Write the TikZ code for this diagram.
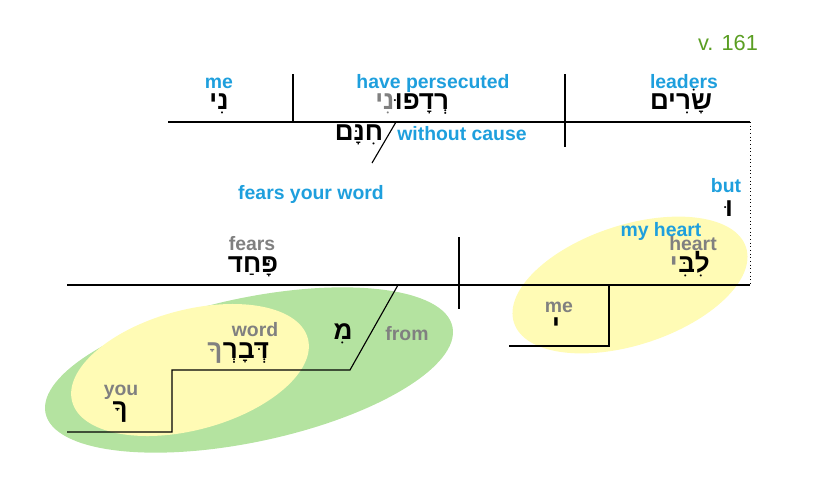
\documentclass[tikz,border=0pt]{standalone}
\usepackage{fontspec}
\setmainfont{Liberation Sans}
\newfontfamily\hebfont[Script=Hebrew]{Liberation Sans}
\TeXXeTstate=1
\usetikzlibrary{positioning}

\definecolor{lblblue}{HTML}{1E9FDD}
\definecolor{lblgrey}{HTML}{808080}
\definecolor{versegreen}{HTML}{5A9E22}
\definecolor{hiyellow}{HTML}{FFFBB5}
\definecolor{higreen}{HTML}{B4E3A0}

\tikzset{
  eng/.style={text=lblblue, font=\fontsize{13.8}{16}\selectfont\bfseries, inner sep=0pt, anchor=base},
  gloss/.style={eng, text=lblgrey},
  heb/.style={font=\hebfont\fontsize{18.5}{20}\selectfont\bfseries, inner sep=0pt, anchor=base},
  hebgrey/.style={heb, text=lblgrey, anchor=base east},
  base/.style={line width=0.8pt},
}

\begin{document}
\begin{tikzpicture}[x=0.025cm,y=-0.025cm]
  \useasboundingbox (0,0) rectangle (825,489);
  % highlight ovals
  \fill[higreen, rotate around={12:(249,370)}] (249,370) ellipse (208 and 72);
  \fill[hiyellow, rotate around={15:(190,370)}] (190,370) ellipse (122 and 60);
  \fill[hiyellow, rotate around={18:(630,285)}] (630,285) ellipse (122 and 60);

  % verse number
  \node[text=versegreen, font=\fontsize{15.5}{18}\selectfont, inner sep=0pt, anchor=base] (verse) at (728,50) {v. 161};

  % first clause
  \draw[base] (168,122) -- (750,122);
  \draw[base] (293,74) -- (293,122);
  \draw[base] (565,74) -- (565,147);
  \draw[base] (396,122) -- (372,163);
  \draw[dotted, line width=0.6pt] (750,122) -- (750,285);

  \node[eng] (me) at (219,88) {me};
  \node[heb] (ni) at (219,109) {\beginR נִי\endR};
  \node[eng] (persecuted) at (433,88) {have persecuted};
  \node[heb] (radafu) at (422,109) {\beginR רְדָפוּ\endR};
  \node[hebgrey] (radafuNi) at (radafu.base west) {\beginR נִי\endR};
  \node[eng] (leaders) at (684,88) {leaders};
  \node[heb] (sarim) at (681,109) {\beginR שָׂרִים\endR};
  \node[heb] (hinnam) at (359,140) {\beginR חִנָּם\endR};
  \node[eng] (cause) at (462,140) {without cause};

  \node[eng] (fearsword) at (311,199) {fears your word};
  \node[eng] (but) at (726,192) {but};
  \node[heb] (vav) at (729,216) {\beginR וּ\endR};

  % second clause
  \draw[base] (67,285) -- (750,285);
  \draw[base] (459,237) -- (459,309);
  \draw[base] (398,285) -- (350,370) -- (172,370) -- (172,432) -- (67,432);
  \draw[base] (609,285) -- (609,346) -- (509,346);

  \node[gloss] (fears) at (252,250) {fears};
  \node[heb] (pahad) at (253,272) {\beginR פָּחַד\endR};
  \node[eng] (myheart) at (661,236) {my heart};
  \node[gloss] (heart) at (693,250) {heart};
  \node[heb] (libbi) at (694,272) {\beginR לִבִּ\endR};
  \node[hebgrey] (libbiYod) at (libbi.base west) {\beginR י\endR};
  \node[gloss] (meB) at (559,312) {me};
  \node[heb] (yod) at (556,333) {\beginR י\endR};

  \node[heb] (mi) at (343,339) {\beginR מִ\endR};
  \node[gloss] (from) at (407,340) {from};
  \node[gloss] (word) at (255,336) {word};
  \node[heb] (devar) at (246,358) {\beginR דְּבָרְ\endR};
  \node[hebgrey] (devarCha) at (devar.base west) {\beginR ךָ\endR};
  \node[gloss] (you) at (121,395) {you};
  \node[heb] (cha) at (120,417) {\beginR ךָ\endR};
\end{tikzpicture}
\end{document}
